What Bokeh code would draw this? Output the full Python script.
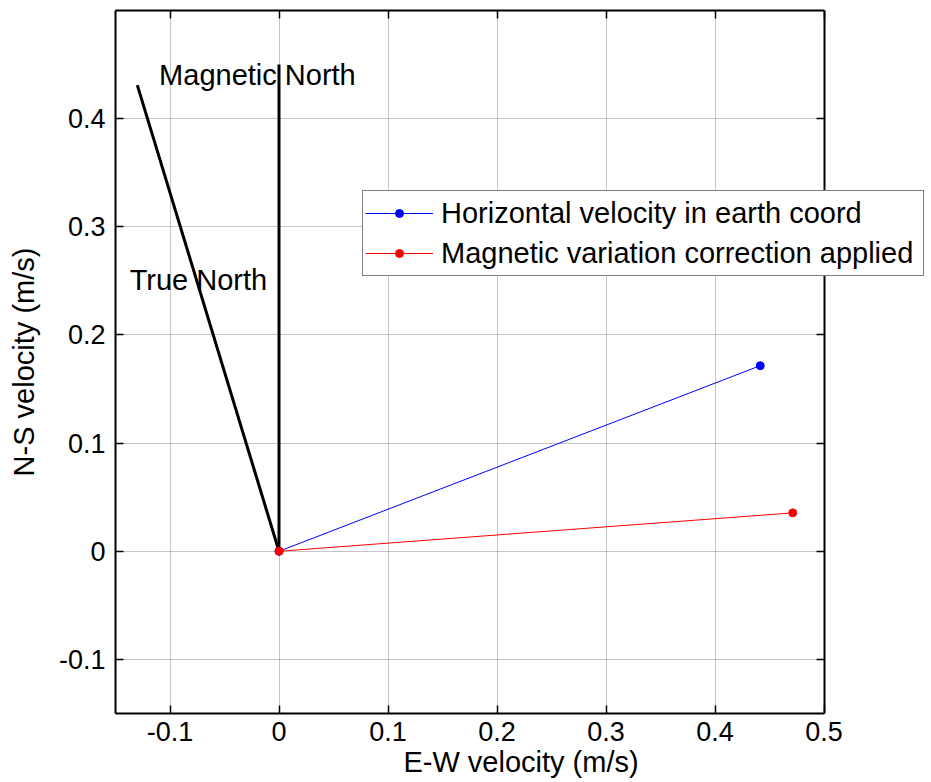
from bokeh.plotting import figure
from bokeh.models import Range1d, LinearAxis, Legend, LegendItem, FixedTicker, Label
from bokeh.embed import file_html
from bokeh.resources import INLINE

# --- data ---
mag_north_x = [0.0, 0.0]
mag_north_y = [0.0, 0.450]
true_north_x = [0.0, -0.130]
true_north_y = [0.0, 0.431]
horiz_x = [0.0, 0.4415]
horiz_y = [0.0, 0.1716]
corr_x = [0.0, 0.4713]
corr_y = [0.0, 0.0355]
x_ticks = [-0.1, 0.0, 0.1, 0.2, 0.3, 0.4, 0.5]
y_ticks = [-0.1, 0.0, 0.1, 0.2, 0.3, 0.4]
x_tick_labels = {-0.1: "-0.1", 0.0: "0", 0.1: "0.1", 0.2: "0.2", 0.3: "0.3", 0.4: "0.4", 0.5: "0.5"}
y_tick_labels = {-0.1: "-0.1", 0.0: "0", 0.1: "0.1", 0.2: "0.2", 0.3: "0.3", 0.4: "0.4"}
legend_labels = ["Horizontal velocity in earth coord", "Magnetic variation correction applied"]
annotations = [("Magnetic North", -0.110, 0.44), ("True North", -0.137, 0.251)]
x_box = (-0.15, 0.5)
y_box = (-0.15, 0.5)

FONT = "Liberation Sans"

# the frame is widened to the right so the legend can stick out of the axes box
p = figure(width=931, height=782, output_backend="svg", toolbar_location=None,
           x_range=Range1d(x_box[0], 0.594), y_range=Range1d(*y_box),
           x_axis_location=None, y_axis_location=None,
           min_border_left=115, min_border_top=10, min_border_right=5, min_border_bottom=69)
p.outline_line_color = None
p.background_fill_color = "white"
p.border_fill_color = "white"

def style_axis(ax, ticks, labels, show_labels):
    ax.ticker = FixedTicker(ticks=ticks)
    ax.major_tick_in = 8
    ax.major_tick_out = 0
    ax.minor_tick_line_color = None
    ax.axis_line_color = "black"
    ax.axis_line_width = 2
    ax.major_tick_line_color = "black"
    ax.major_tick_line_width = 1.5
    ax.major_label_text_font = FONT
    ax.major_label_text_color = "black"
    if show_labels:
        ax.major_label_overrides = labels
        ax.major_label_text_font_size = "27px"
        ax.major_label_standoff = 10
    else:
        ax.major_label_overrides = {k: "" for k in labels}
        ax.major_label_text_font_size = "0px"
        ax.major_label_standoff = 0

xb = LinearAxis(axis_label="E-W velocity (m/s)", bounds=x_box)
style_axis(xb, x_ticks, x_tick_labels, True)
xb.major_label_standoff = 8
xb.axis_label_standoff = 2
yl = LinearAxis(axis_label="N-S velocity (m/s)", bounds=y_box)
style_axis(yl, y_ticks, y_tick_labels, True)
yl.axis_label_standoff = 16
for ax in (xb, yl):
    ax.axis_label_text_font = FONT
    ax.axis_label_text_font_size = "29px"
    ax.axis_label_text_font_style = "normal"
    ax.axis_label_text_color = "black"
xt = LinearAxis(bounds=x_box)
style_axis(xt, x_ticks, x_tick_labels, False)
yr = LinearAxis(bounds=y_box, fixed_location=x_box[1])
style_axis(yr, y_ticks, y_tick_labels, False)
p.add_layout(xb, "below")
p.add_layout(yl, "left")
p.add_layout(xt, "above")
p.add_layout(yr, "right")

p.xgrid.ticker = FixedTicker(ticks=x_ticks)
p.ygrid.ticker = FixedTicker(ticks=y_ticks)
for g in (p.xgrid, p.ygrid):
    g.grid_line_color = "#8c8c8c"
    g.grid_line_dash = "1 1"
    g.grid_line_width = 1
if "cross_bounds" in p.ygrid[0].properties():
    p.ygrid.cross_bounds = x_box
else:
    p.ygrid.visible = False
    p.segment(x0=[x_box[0]] * len(y_ticks), x1=[x_box[1]] * len(y_ticks), y0=y_ticks, y1=y_ticks,
              line_color="#8c8c8c", line_dash="1 1", line_width=1, level="underlay")

p.line(mag_north_x, mag_north_y, line_color="black", line_width=3)
p.line(true_north_x, true_north_y, line_color="black", line_width=3)

bl = p.line(horiz_x, horiz_y, line_color="blue", line_width=1)
bs = p.scatter(horiz_x, horiz_y, size=8, fill_color="blue", line_color="blue")
rl = p.line(corr_x, corr_y, line_color="red", line_width=1)
rs = p.scatter(corr_x, corr_y, size=8, fill_color="red", line_color="red")

for txt, x, y in annotations:
    p.add_layout(Label(x=x, y=y, text=txt, text_font=FONT, text_font_size="29px",
                       text_baseline="middle", text_align="left", text_color="black"))

legend = Legend(items=[LegendItem(label=legend_labels[0], renderers=[bl, bs]),
                       LegendItem(label=legend_labels[1], renderers=[rl, rs])],
                location=(247, 437))
legend.label_text_font = FONT
legend.label_text_font_size = "29px"
legend.label_text_color = "black"
legend.glyph_width = 68
legend.glyph_height = 20
legend.label_height = 40
legend.label_width = 480
legend.label_standoff = 8
legend.spacing = 0
legend.padding = 2
legend.margin = 0
legend.border_line_color = "black"
legend.border_line_width = 1.5
legend.background_fill_color = "white"
legend.background_fill_alpha = 1
p.add_layout(legend, "center")

open("out.html", "w").write(file_html(p, INLINE))
